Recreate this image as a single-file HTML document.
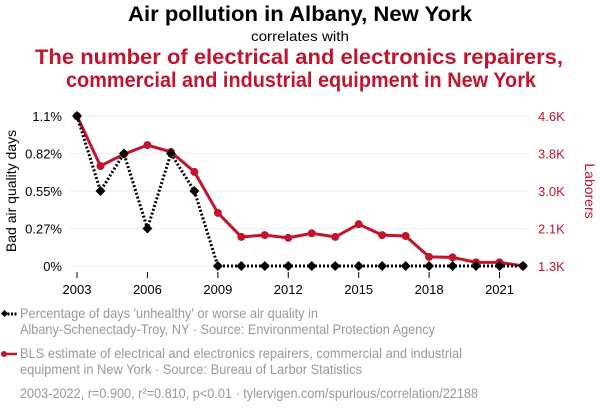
<!DOCTYPE html>
<html><head><meta charset="utf-8"><style>
body{margin:0;background:#fff;font-family:"Liberation Sans",sans-serif;}
</style></head><body>
<svg width="600" height="414" xmlns="http://www.w3.org/2000/svg" font-family="Liberation Sans, sans-serif">
<text x="128" y="21" textLength="344" lengthAdjust="spacingAndGlyphs" font-size="21" font-weight="bold" fill="#000">Air pollution in Albany, New York</text>
<text x="251" y="41" textLength="98" lengthAdjust="spacingAndGlyphs" font-size="14" fill="#000">correlates with</text>
<text x="35" y="64" textLength="528" lengthAdjust="spacingAndGlyphs" font-size="21" font-weight="bold" fill="#c0152f">The number of electrical and electronics repairers,</text>
<text x="66" y="87" textLength="470" lengthAdjust="spacingAndGlyphs" font-size="21" font-weight="bold" fill="#c0152f">commercial and industrial equipment in New York</text>
<g id="grid"></g>
<g id="axes"></g>
<text transform="translate(16,191) rotate(-90)" text-anchor="middle" font-size="14" fill="#000">Bad air quality days</text>
<text transform="translate(585,191) rotate(90)" text-anchor="middle" font-size="14" fill="#c0152f">Laborers</text>
<g id="series"></g>
<g>
<line x1="4" y1="314" x2="17" y2="314" stroke="#000" stroke-width="3" stroke-dasharray="2,1.5"/>
<rect x="2" y="311" width="5" height="5" fill="#000" transform="rotate(45 4.5 313.5)"/>
<text x="20" y="318" textLength="298" lengthAdjust="spacingAndGlyphs" font-size="14" fill="#999">Percentage of days 'unhealthy' or worse air quality in</text>
<text x="20" y="334" textLength="415" lengthAdjust="spacingAndGlyphs" font-size="14" fill="#999">Albany-Schenectady-Troy, NY · Source: Environmental Protection Agency</text>
</g>
<g>
<line x1="4" y1="354" x2="17" y2="354" stroke="#c0152f" stroke-width="2.5"/>
<circle cx="4" cy="354" r="3" fill="#c0152f"/>
<text x="20" y="358" textLength="442" lengthAdjust="spacingAndGlyphs" font-size="14" fill="#999">BLS estimate of electrical and electronics repairers, commercial and industrial</text>
<text x="20" y="374" textLength="342" lengthAdjust="spacingAndGlyphs" font-size="14" fill="#999">equipment in New York · Source: Bureau of Larbor Statistics</text>
</g>
<text x="20" y="398" textLength="458" lengthAdjust="spacingAndGlyphs" font-size="14" fill="#999">2003-2022, r=0.900, r²=0.810, p&lt;0.01 · tylervigen.com/spurious/correlation/22188</text>
</svg>
<script>
const years=[2003,2004,2005,2006,2007,2008,2009,2010,2011,2012,2013,2014,2015,2016,2017,2018,2019,2020,2021,2022];
const pollution=[1.1,0.55,0.825,0.275,0.825,0.55,0,0,0,0,0,0,0,0,0,0,0,0,0,0];
const laborers=[4.6,3.5,3.76,3.96,3.81,3.37,2.47,1.94,1.98,1.92,2.02,1.94,2.22,1.98,1.96,1.5,1.49,1.38,1.38,1.3];
const leftTicks=[0,0.275,0.55,0.825,1.1];
const leftTickLabels=["0%","0.27%","0.55%","0.82%","1.1%"];
const rightTickLabels=["1.3K","2.1K","3.0K","3.8K","4.6K"];
const xTicks=[2003,2006,2009,2012,2015,2018,2021];
const NS="http://www.w3.org/2000/svg";
const x=y=>77+(y-2003)*(523-77)/19;
const yL=v=>266-v/1.1*150;
const yR=v=>266-(v-1.3)/3.3*150;
function mk(tag,attrs,parent){const e=document.createElementNS(NS,tag);for(const k in attrs)e.setAttribute(k,attrs[k]);parent.appendChild(e);return e;}
const grid=document.getElementById('grid'),axes=document.getElementById('axes'),ser=document.getElementById('series');
leftTicks.forEach((t,i)=>{
  const gy=yL(t);
  const l=mk('line',{x1:70,x2:530,y1:gy,y2:gy,stroke:'#eee','stroke-width':1},grid);
  
  
  const tl=mk('text',{x:62,y:gy+5,'text-anchor':'end','font-size':13,fill:'#000'},axes);
  tl.textContent=leftTickLabels[i];
  
  
  const tr=mk('text',{x:538,y:gy+5,'font-size':13,fill:'#c0152f'},axes);
  tr.textContent=rightTickLabels[i];
  
  
});
xTicks.forEach(t=>{
  const l=mk('line',{x1:x(t),x2:x(t),y1:272,y2:278,stroke:'#000','stroke-width':1},axes);
  
  
  const tx=mk('text',{x:x(t),y:294,'text-anchor':'middle','font-size':13,fill:'#000'},axes);
  tx.textContent=t;
  
  
});
const rl=mk('polyline',{points:years.map((y,i)=>x(y)+','+yR(laborers[i])).join(' '),fill:'none',stroke:'#c0152f','stroke-width':3},ser);


years.forEach((y,i)=>{
  const c=mk('circle',{cx:x(y),cy:yR(laborers[i]),r:4,fill:'#c0152f'},ser);
  
  
});
const bl=mk('polyline',{points:years.map((y,i)=>x(y)+','+yL(pollution[i])).join(' '),fill:'none',stroke:'#000','stroke-width':3,'stroke-dasharray':'2,2'},ser);


years.forEach((y,i)=>{
  const cx=x(y),cy=yL(pollution[i]);
  const d=mk('rect',{x:cx-3.5,y:cy-3.5,width:7,height:7,fill:'#000',transform:`rotate(45 ${cx} ${cy})`},ser);
  
  
});
</script>
</body></html>
